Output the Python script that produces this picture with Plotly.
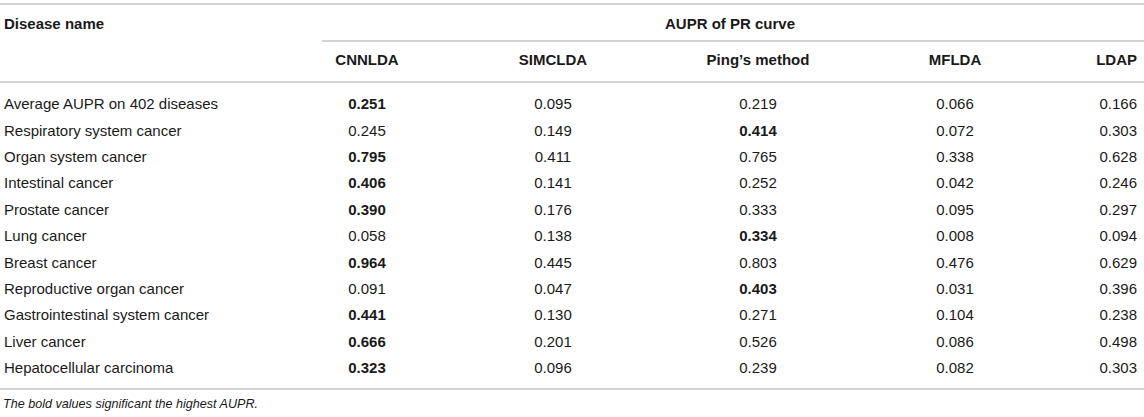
import plotly.graph_objects as go

# table data: AUPR of PR curve per disease
diseases = [
    "Average AUPR on 402 diseases",
    "Respiratory system cancer",
    "Organ system cancer",
    "Intestinal cancer",
    "Prostate cancer",
    "Lung cancer",
    "Breast cancer",
    "Reproductive organ cancer",
    "Gastrointestinal system cancer",
    "Liver cancer",
    "Hepatocellular carcinoma",
]
methods = ["CNNLDA", "SIMCLDA", "Ping’s method", "MFLDA", "LDAP"]
cnnlda = [0.251, 0.245, 0.795, 0.406, 0.390, 0.058, 0.964, 0.091, 0.441, 0.666, 0.323]
simclda = [0.095, 0.149, 0.411, 0.141, 0.176, 0.138, 0.445, 0.047, 0.130, 0.201, 0.096]
ping = [0.219, 0.414, 0.765, 0.252, 0.333, 0.334, 0.803, 0.403, 0.271, 0.526, 0.239]
mflda = [0.066, 0.072, 0.338, 0.042, 0.095, 0.008, 0.476, 0.031, 0.104, 0.086, 0.082]
ldap = [0.166, 0.303, 0.628, 0.246, 0.297, 0.094, 0.629, 0.396, 0.238, 0.498, 0.303]

W, H = 1144, 417
FONT = "Liberation Sans, Arial, Helvetica, sans-serif"
TXT = "#1a1a1a"
RULE = "#c4c4c4"

# layout (axis units = screen pixels)
col_x = [367, 553, 758, 955, 1137]
col_pos = ["middle center"] * 4 + ["middle left"]
row0, step = 105.5, 26.4
row_y = [row0 + i * step for i in range(len(diseases))]

series = [cnnlda, simclda, ping, mflda, ldap]
best = [max(vals) for vals in zip(*series)]


def text_trace(x, y, text, pos, size=15):
    return go.Scatter(
        x=x, y=y, mode="text", text=text, textposition=pos,
        textfont=dict(size=size, color=TXT, family=FONT),
        cliponaxis=False, hoverinfo="skip", showlegend=False,
    )


fig = go.Figure()

# disease names
fig.add_trace(text_trace([4] * len(diseases), row_y, diseases, "middle right"))

# value columns, best value of each row in bold
for vals, x, pos in zip(series, col_x, col_pos):
    labels = [f"<b>{v:.3f}</b>" if v == b else f"{v:.3f}" for v, b in zip(vals, best)]
    fig.add_trace(text_trace([x] * len(vals), row_y, labels, pos))

# headers
fig.add_trace(text_trace(col_x, [61.5] * len(methods),
                         [f"<b>{m}</b>" for m in methods], col_pos))
fig.add_trace(text_trace([4, 730], [25.5, 25.5],
                         ["<b>Disease name</b>", "<b>AUPR of PR curve</b>"],
                         ["middle right", "middle center"]))

# footnote
fig.add_trace(text_trace([3], [405],
                         ["<i>The bold values significant the highest AUPR.</i>"],
                         "middle right", size=12.6))

# horizontal rules
for x0, y in [(0, 4), (322, 41), (0, 82), (0, 389)]:
    fig.add_shape(type="line", xref="x", yref="y", x0=x0, x1=W, y0=y, y1=y,
                  line=dict(color=RULE, width=1.5))

fig.update_layout(
    width=W, height=H,
    margin=dict(l=0, r=0, t=0, b=0),
    paper_bgcolor="white", plot_bgcolor="white",
    xaxis=dict(range=[0, W], visible=False, fixedrange=True),
    yaxis=dict(range=[H, 0], visible=False, fixedrange=True),
)

# drop the default page margin so the table sits flush in the window
fig.write_html("out.html", config={"displayModeBar": False},
               post_script="document.body.style.margin = '0';")
